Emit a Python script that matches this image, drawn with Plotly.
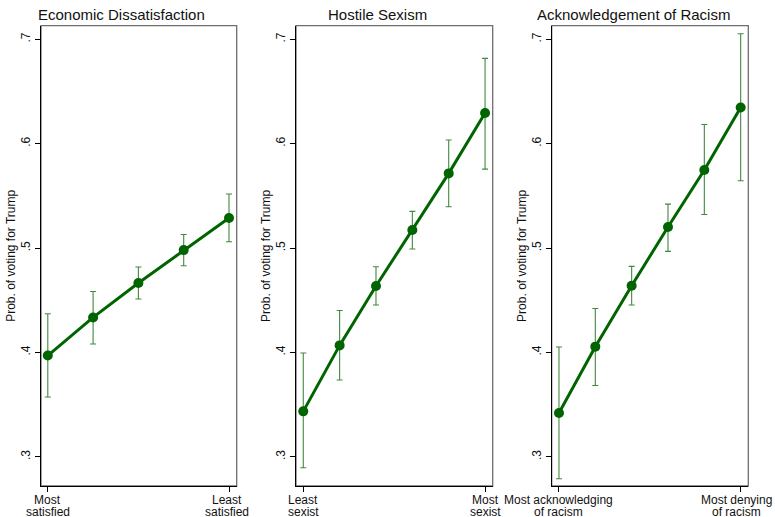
import plotly.graph_objects as go

# ---- data ----
econ_x = [1, 2, 3, 4, 5]
econ_y = [0.397, 0.4335, 0.4665, 0.498, 0.5287]
econ_lo = [0.3573, 0.408, 0.4511, 0.483, 0.506]
econ_hi = [0.437, 0.4584, 0.4818, 0.513, 0.5517]

sex_x = [1, 2, 3, 4, 5, 6]
sex_y = [0.3435, 0.4067, 0.4636, 0.5172, 0.5715, 0.6293]
sex_lo = [0.2895, 0.3736, 0.4454, 0.499, 0.5395, 0.5756]
sex_hi = [0.3994, 0.4402, 0.4821, 0.5351, 0.6035, 0.6817]

rac_x = [1, 2, 3, 4, 5, 6]
rac_y = [0.342, 0.4055, 0.4639, 0.5201, 0.5748, 0.6346]
rac_lo = [0.279, 0.3683, 0.4454, 0.4968, 0.5321, 0.5644]
rac_hi = [0.4052, 0.4421, 0.4824, 0.5421, 0.6183, 0.7053]

titles = ["Economic Dissatisfaction", "Hostile Sexism", "Acknowledgement of Racism"]
econ_ticks = [["Most", "satisfied"], ["Least", "satisfied"]]
sex_ticks = [["Least", "sexist"], ["Most", "sexist"]]
rac_ticks = [["Most acknowledging", "of racism"], ["Most denying", "of racism"]]
y_tickvals = [0.3, 0.4, 0.5, 0.6, 0.7]
y_ticktext = [".3", ".4", ".5", ".6", ".7"]
y_title = "Prob. of voting for Trump"

W, H = 775, 517
FONT = "Liberation Sans, Arial, Helvetica, sans-serif"
LINE_GREEN = "#006400"
CI_GREEN = "rgba(30,115,30,0.85)"
TXT = "#111"

panels = [
    dict(x=econ_x, y=econ_y, lo=econ_lo, hi=econ_hi, ticks=econ_ticks,
         dom=(41, 236.7), xr=(0.85, 5.17), title_cx=121, shifts=(0, -2)),
    dict(x=sex_x, y=sex_y, lo=sex_lo, hi=sex_hi, ticks=sex_ticks,
         dom=(296, 492.7), xr=(0.80, 6.21), title_cx=377.5, shifts=(0, 0)),
    dict(x=rac_x, y=rac_y, lo=rac_lo, hi=rac_hi, ticks=rac_ticks,
         dom=(551.7, 748.3), xr=(0.80, 6.21), title_cx=633, shifts=(0, -4)),
]

ydom = (1 - 486 / H, 1 - 25.7 / H)
line_y = [500, 511.5]  # pixel centres of the two tick-label lines

fig = go.Figure()
annotations = []
shapes = []
for i, p in enumerate(panels):
    n = "" if i == 0 else str(i + 1)
    xa, ya = "x" + n, "y" + n
    plus = [h - v for h, v in zip(p["hi"], p["y"])]
    minus = [v - l for v, l in zip(p["y"], p["lo"])]
    fig.add_trace(go.Scatter(
        x=p["x"], y=p["y"], mode="markers", xaxis=xa, yaxis=ya,
        marker=dict(size=1, color="rgba(0,0,0,0)"),
        error_y=dict(type="data", array=plus, arrayminus=minus, symmetric=False,
                     color=CI_GREEN, thickness=1.1, width=3),
        showlegend=False, hoverinfo="skip"))
    fig.add_trace(go.Scatter(
        x=p["x"], y=p["y"], mode="lines+markers", xaxis=xa, yaxis=ya,
        line=dict(color=LINE_GREEN, width=3),
        marker=dict(size=10, color=LINE_GREEN),
        showlegend=False))
    xkey = "xaxis" + n
    ykey = "yaxis" + n
    tickx = [p["x"][0], p["x"][-1]]
    fig.update_layout(**{
        xkey: dict(domain=[p["dom"][0] / W, p["dom"][1] / W], anchor=ya,
                   range=list(p["xr"]), tickvals=tickx,
                   showticklabels=False, automargin=False,
                   ticks="outside", ticklen=5, tickwidth=1,
                   tickcolor="#000", showline=True, linecolor="#000", linewidth=1.3,
                   showgrid=False, zeroline=False),
        ykey: dict(domain=list(ydom), anchor=xa, range=[0.272, 0.713],
                   tickvals=y_tickvals, ticktext=y_ticktext, tickangle=-90,
                   automargin=False, ticklabelstandoff=0,
                   ticks="outside", ticklen=5, tickwidth=1, tickcolor="#000",
                   showline=True, linecolor="#000", linewidth=1.3,
                   showgrid=False, zeroline=False,
                   tickfont=dict(family=FONT, size=12, color=TXT),
                   title=dict(text=y_title, standoff=0,
                              font=dict(family=FONT, size=12, color=TXT))),
    })
    # x tick labels: two lines each, centred on the tick
    for tv, lines, sh in zip(tickx, p["ticks"], p["shifts"]):
        for ln, py in zip(lines, line_y):
            annotations.append(dict(text=ln, xref=xa, yref="paper", x=tv,
                                    y=1 - py / H, xanchor="center", yanchor="middle",
                                    xshift=sh, showarrow=False,
                                    font=dict(family=FONT, size=12, color=TXT)))
    shapes.append(dict(type="rect", xref=xa + " domain", yref=ya + " domain",
                       x0=0, x1=1, y0=0, y1=1, layer="below",
                       line=dict(color="#6e6e6e", width=1.3)))
    annotations.append(dict(text=titles[i], xref="paper", yref="paper",
                            x=p["title_cx"] / W, y=1 - 15 / H,
                            xanchor="center", yanchor="middle", showarrow=False,
                            font=dict(family=FONT, size=15, color=TXT)))

fig.update_layout(width=W, height=H, margin=dict(l=0, r=0, t=0, b=0, autoexpand=False),
                  paper_bgcolor="white", plot_bgcolor="white",
                  annotations=annotations, shapes=shapes)

fig.write_html("out.html", config={"displayModeBar": False},
               post_script="document.body.style.margin='0';document.body.style.overflow='hidden';")
